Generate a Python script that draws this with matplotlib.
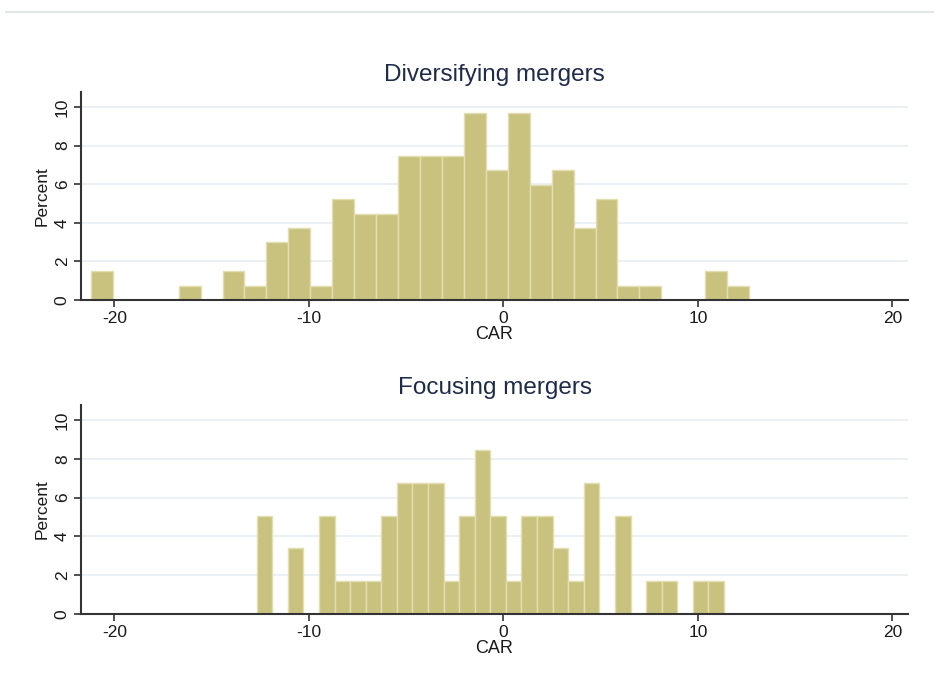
import numpy as np
import matplotlib
matplotlib.use("Agg")
import matplotlib.pyplot as plt
from matplotlib.lines import Line2D

plt.rcParams['font.family'] = ['Liberation Sans', 'DejaVu Sans']
plt.rcParams['axes.unicode_minus'] = False

# histogram bins (start, width) and bar heights in percent, 30 bins each
div_start = -21.21
div_width = 1.128
div_pct = [1.49, 0, 0, 0, 0.75, 0, 1.49, 0.75, 2.99, 3.73,
           0.75, 5.22, 4.48, 4.48, 7.46, 7.46, 7.46, 9.70, 6.72, 9.70,
           5.97, 6.72, 3.73, 5.22, 0.75, 0.75, 0, 0, 1.49, 0.75]

foc_start = -12.69
foc_width = 0.801
foc_pct = [5.08, 0, 3.39, 0, 5.08, 1.69, 1.69, 1.69, 5.08, 6.78,
           6.78, 6.78, 1.69, 5.08, 8.47, 5.08, 1.69, 5.08, 5.08, 3.39,
           1.69, 6.78, 0, 5.08, 0, 1.69, 1.69, 0, 1.69, 1.69]

panels = [("Diversifying mergers", div_start, div_width, div_pct),
          ("Focusing mergers", foc_start, foc_width, foc_pct)]

xticks = [-20, -10, 0, 10, 20]
yticks = [0, 2, 4, 6, 8, 10]

bar_color = '#c9c27f'
edge_color = '#e2deb2'
grid_color = '#e6edf2'
axis_color = '#333333'
title_color = '#1f2b4a'

fig = plt.figure(figsize=(9.34, 6.85), dpi=100)
fig.patch.set_facecolor('white')

# thin rule along the top of the graph region
fig.add_artist(Line2D([6 / 934, 1.0], [1 - 11.5 / 685] * 2, color='#dfe7e7',
                      lw=1.5, transform=fig.transFigure))

boxes = [[0.0867, 0.562, 0.8855, 0.3037],
         [0.0867, 0.1036, 0.8855, 0.3052]]

for box, (title, start, width, pct) in zip(boxes, panels):
    ax = fig.add_axes(box)
    edges = start + width * np.arange(len(pct))
    ax.bar(edges, pct, width=width, align='edge', color=bar_color,
           edgecolor=edge_color, linewidth=1.0, zorder=2)

    ax.set_xlim(-21.72, 20.8)
    ax.set_ylim(0, 10.78)
    ax.set_xticks(xticks)
    ax.set_yticks(yticks)
    ax.grid(axis='y', color=grid_color, linewidth=1.2, zorder=0)
    ax.set_axisbelow(True)

    for side in ['top', 'right']:
        ax.spines[side].set_visible(False)
    for side in ['left', 'bottom']:
        ax.spines[side].set_color(axis_color)
        ax.spines[side].set_linewidth(1.5)

    ax.tick_params(axis='both', direction='out', length=5, width=1.2,
                   color=axis_color, labelsize=12.5, labelcolor='#1a1a1a')
    ax.tick_params(axis='x', pad=3)
    ax.tick_params(axis='y', pad=3)
    for lab in ax.get_yticklabels():
        lab.set_rotation(90)
        lab.set_va('center')

    ax.set_xlabel("CAR", fontsize=13, color='#1a1a1a', labelpad=0)
    ax.set_ylabel("Percent", fontsize=12.5, color='#1a1a1a', labelpad=4)
    ax.set_title(title, fontsize=17.5, color=title_color, pad=8)

fig.savefig("out.png", dpi=100, facecolor='white')
